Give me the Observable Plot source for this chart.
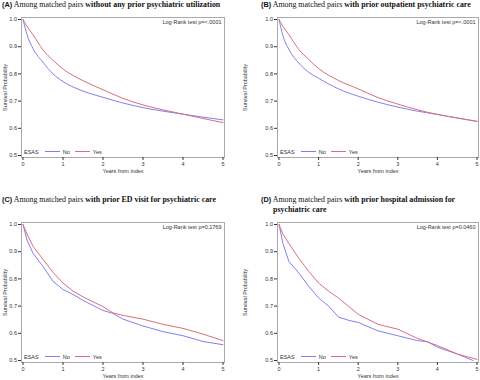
<!DOCTYPE html>
<html><head><meta charset="utf-8">
<script src="https://cdn.jsdelivr.net/npm/d3@7"></script>
<script src="https://cdn.jsdelivr.net/npm/@observablehq/plot@0.6"></script>
<style>
body{margin:0;background:#fff;}
#wrap{position:relative;width:480px;height:380px;overflow:hidden;background:#fff;}
.panel{position:absolute;width:240px;height:190px;}
.panel svg{position:absolute;left:0;top:0;}
.title{position:absolute;font-family:"Liberation Serif","Times New Roman",serif;font-size:7.9px;line-height:10px;color:#111;white-space:nowrap;z-index:2;}
.title .lab{font-family:"Liberation Sans",Arial,sans-serif;font-weight:bold;font-size:7.3px;}
.legend{position:absolute;display:flex;align-items:center;font-family:"Liberation Sans",Arial,sans-serif;font-size:5.5px;color:#333;z-index:2;height:6px;}
.legend .ln{display:inline-block;width:15px;height:0;border-top:1px solid;margin:0 3px 0 5px;}
</style></head>
<body><div id="wrap"></div>
<script>
// Panel A: without any prior psychiatric utilization
const timesA = [0,0.1,0.25,0.5,0.75,1,1.5,2,2.5,3,3.5,4,4.5,5];
const noA  = [1,0.945,0.893,0.843,0.800,0.772,0.737,0.714,0.693,0.676,0.663,0.652,0.641,0.631];
const yesA = [1,0.975,0.944,0.888,0.850,0.818,0.775,0.742,0.710,0.686,0.668,0.652,0.636,0.621];
// Panel B: with prior outpatient psychiatric care
const timesB = [0,0.1,0.25,0.5,0.75,1,1.5,2,2.5,3,3.5,4,4.5,5];
const noB  = [1,0.940,0.890,0.840,0.806,0.784,0.745,0.718,0.696,0.678,0.663,0.651,0.638,0.626];
const yesB = [1,0.975,0.944,0.890,0.853,0.820,0.776,0.745,0.713,0.689,0.668,0.651,0.638,0.625];
// Panel C: with prior ED visit for psychiatric care
const timesC = [0,0.1,0.25,0.5,0.75,1,1.25,1.5,2,2.25,2.5,3,3.5,4,4.5,5];
const noC  = [1,0.943,0.894,0.846,0.791,0.761,0.743,0.721,0.684,0.673,0.652,0.627,0.606,0.591,0.570,0.558];
const yesC = [1,0.965,0.920,0.872,0.824,0.785,0.755,0.734,0.698,0.675,0.666,0.652,0.633,0.618,0.597,0.573];
// Panel D: with prior hospital admission for psychiatric care
const timesNoD  = [0,0.1,0.25,0.5,0.75,1,1.25,1.5,1.75,2,2.5,3,3.5,3.75,4,4.5,4.9];
const noD       = [1,0.930,0.864,0.822,0.773,0.730,0.700,0.660,0.648,0.640,0.609,0.591,0.573,0.569,0.549,0.524,0.500];
const timesYesD = [0,0.1,0.25,0.5,0.75,1,1.25,1.5,1.75,2,2.5,3,3.5,4,4.5,5];
const yesD      = [1,0.965,0.930,0.876,0.828,0.785,0.755,0.730,0.700,0.670,0.633,0.615,0.581,0.555,0.524,0.504];

const groups = ["No","Yes"];
const yTicks = [0.5,0.6,0.7,0.8,0.9,1.0];
const xTicks = [0,1,2,3,4,5];
const pValues = ["Log-Rank test p=<.0001","Log-Rank test p=<.0001","Log-Rank test p=0.1769","Log-Rank test p=0.0460"];
const BLUE = "#8080f4", RED = "#de6e7a";

function rows(tNo, vNo, tYes, vYes){
  return tNo.map((t,i)=>({t, s:vNo[i], g:groups[0]}))
    .concat(tYes.map((t,i)=>({t, s:vYes[i], g:groups[1]})));
}

const panels = [
  {left:0,top:0,data:rows(timesA,noA,timesA,yesA),p:pValues[0],ml:21,mr:16,mt:17,mb:33,curve:"monotone-x",
   title:'<span class="lab">(A)</span> Among matched pairs <b>without any prior psychiatric utilization</b>',tx:2,ty:0},
  {left:240,top:0,data:rows(timesB,noB,timesB,yesB),p:pValues[1],ml:37,mr:2,mt:17,mb:33,curve:"monotone-x",
   title:'<span class="lab">(B)</span> Among matched pairs <b>with prior outpatient psychiatric care</b>',tx:21,ty:0},
  {left:0,top:190,data:rows(timesC,noC,timesC,yesC),p:pValues[2],ml:21,mr:16,mt:32,mb:18,curve:"linear",
   title:'<span class="lab">(C)</span> Among matched pairs <b>with prior ED visit for psychiatric care</b>',tx:2,ty:5},
  {left:240,top:190,data:rows(timesNoD,noD,timesYesD,yesD),p:pValues[3],ml:37,mr:2,mt:32,mb:18,curve:"linear",
   title:'<span class="lab">(D)</span> Among matched pairs <b>with prior hospital admission for</b><br><span style="padding-left:12px"><b>psychiatric care</b></span>',tx:21,ty:5}
];

const wrap = document.getElementById("wrap");
for (const P of panels){
  const div = document.createElement("div");
  div.className = "panel";
  div.style.left = P.left+"px"; div.style.top = P.top+"px";
  const chart = Plot.plot({
    width:240, height:190,
    marginLeft:P.ml, marginRight:P.mr, marginTop:P.mt, marginBottom:P.mb,
    style:{fontFamily:"'Liberation Sans',Arial,sans-serif",fontSize:"5.5px",color:"#333",background:"transparent",overflow:"visible"},
    x:{domain:[0,5], inset:1.5},
    y:{domain:[0.5,1], inset:2},
    color:{domain:groups, range:[BLUE,RED]},
    marks:[
      Plot.frame({stroke:"#aaaaaa"}),
      Plot.axisY({ticks:yTicks, tickFormat:".1f", tickSize:3, tickPadding:1.5, label:"Survival Probability", labelAnchor:"center", labelArrow:"none", labelOffset:P.ml-3}),
      Plot.axisX({ticks:xTicks, tickFormat:"d", tickSize:3, tickPadding:1.5, label:"Years from index", labelAnchor:"center", labelArrow:"none", labelOffset:15}),
      Plot.line(P.data, {x:"t", y:"s", stroke:"g", strokeWidth:1, curve:P.curve}),
      Plot.text([P.p], {text:d=>d, frameAnchor:"top-right", textAnchor:"end", lineAnchor:"middle", dx:-3, dy:5})
    ]
  });
  div.appendChild(chart);
  const t = document.createElement("div");
  t.className = "title"; t.innerHTML = P.title;
  t.style.left = P.tx+"px"; t.style.top = P.ty+"px";
  div.appendChild(t);
  const lg = document.createElement("div");
  lg.className = "legend";
  lg.style.left = (P.ml+3)+"px";
  lg.style.top = (190-P.mb-8.5)+"px";
  lg.innerHTML = 'ESAS<span class="ln" style="border-color:'+BLUE+';margin-left:6px"></span>'+groups[0]+
    '<span class="ln" style="border-color:'+RED+'"></span>'+groups[1];
  div.appendChild(lg);
  wrap.appendChild(div);
}
</script></body></html>
